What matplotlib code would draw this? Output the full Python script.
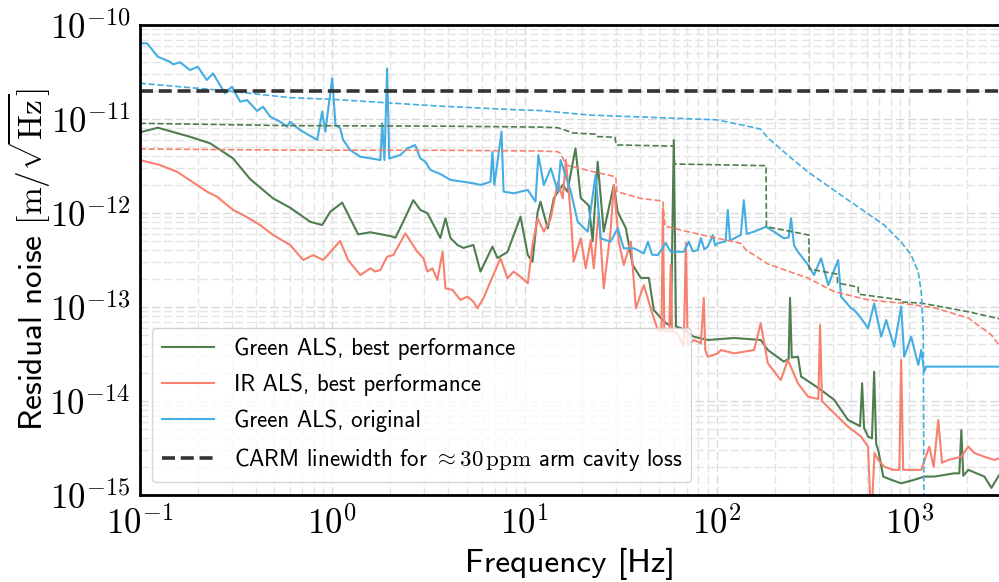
import numpy as np
import matplotlib
matplotlib.use("Agg")
import matplotlib.pyplot as plt
from matplotlib.ticker import LogLocator, NullFormatter, FuncFormatter

plt.rcParams['mathtext.fontset'] = 'cm'
plt.rcParams['font.family'] = ['cmss10', 'DejaVu Sans']
plt.rcParams['axes.unicode_minus'] = False

# ---------------- data ----------------
green_f = [0.1, 0.124, 0.182, 0.232, 0.305, 0.374, 0.493, 0.604, 0.768, 0.887, 0.976, 1.127,
           1.365, 1.578, 2.00, 2.13, 2.34, 2.64, 2.87, 3.13, 3.65, 3.88, 4.12, 4.48, 4.81, 5.42,
           5.90, 6.81, 7.23, 8.15, 9.53, 10.4, 11.0, 11.7, 12.1, 13.2, 14.2, 15.8, 16.7, 18.4,
           19.6, 21.6, 22.6, 24.0, 25.8, 29.1, 30.5, 33.6, 36.5, 40.2, 44.3, 47.0, 51.1, 55.0,
           57.7, 59.7, 61.3, 64.9, 75.9, 89.7, 123, 169, 184, 223, 236, 240, 245, 264, 274, 309,
           348, 407, 481, 555, 569, 582, 611, 640, 657, 673, 690, 733, 806, 908, 1062, 1197,
           1349, 1714, 1822, 1866, 1910, 2028, 2460, 2674, 2978]
green_asd = [7.22e-12, 8.08e-12, 6.48e-12, 5.51e-12, 3.82e-12, 2.30e-12, 1.43e-12, 1.14e-12,
             8.07e-13, 7.45e-13, 1.03e-12, 1.29e-12, 5.93e-13, 6.24e-13, 5.69e-13, 5.46e-13,
             8.07e-13, 1.37e-12, 1.08e-12, 9.93e-13, 5.42e-13, 8.79e-13, 5.42e-13, 4.57e-13,
             4.25e-13, 4.57e-13, 2.38e-13, 4.39e-13, 3.32e-13, 3.85e-13, 9.14e-13, 3.57e-13,
             3.03e-13, 1.03e-12, 1.32e-12, 6.87e-13, 1.44e-12, 1.99e-12, 1.69e-12, 4.88e-12,
             1.44e-12, 1.2e-12, 5.0e-13, 3.51e-12, 6.33e-13, 1.99e-12, 1.03e-12, 6.92e-13,
             2.80e-13, 2.04e-13, 2.04e-13, 9.29e-14, 7.64e-14, 6.6e-14, 6.44e-14, 5.98e-12,
             6.2e-14, 5.98e-14, 4.83e-14, 4.46e-14, 4.68e-14, 4.46e-14, 3.49e-14, 2.62e-14,
             2.8e-14, 1.25e-13, 2.9e-14, 2.96e-14, 1.82e-14, 1.55e-14, 1.31e-14, 1.03e-14,
             6.28e-15, 5.4e-15, 1.55e-14, 5.2e-15, 4.17e-15, 4.0e-15, 2.05e-14, 3.5e-15,
             3.01e-15, 1.57e-15, 1.45e-15, 1.33e-15, 1.45e-15, 1.57e-15, 1.57e-15, 1.70e-15,
             1.7e-15, 4.91e-15, 1.6e-15, 1.85e-15, 1.57e-15, 1.19e-15, 1.71e-15]

red_f = [0.1, 0.127, 0.156, 0.198, 0.223, 0.252, 0.305, 0.344, 0.422, 0.493, 0.604, 0.707,
         0.796, 0.898, 1.10, 1.21, 1.40, 1.58, 1.67, 1.78, 1.93, 2.08, 2.40, 2.77, 2.98, 3.13,
         3.32, 3.52, 3.75, 3.88, 4.22, 4.64, 5.05, 5.42, 5.69, 6.11, 6.65, 7.50, 8.15, 8.77,
         9.53, 10.4, 11.0, 11.7, 12.6, 13.7, 14.9, 15.8, 16.4, 17.4, 18.0, 19.6, 20.8, 22.1,
         22.9, 24.3, 25.8, 28.0, 29.1, 30.9, 32.8, 35.7, 37.9, 41.7, 46.4, 49.3, 51.5, 52.4,
         53.3, 56.5, 57.5, 58.5, 62.0, 67.3, 69.0, 70.5, 75.9, 82.6, 85.5, 87.0, 89.7, 101,
         105, 123, 156, 169, 184, 215, 234, 264, 298, 337, 344, 352, 407, 481, 562, 611, 634,
         660, 690, 741, 826, 888, 908, 930, 988, 1155, 1271, 1340, 1416, 1480, 1596, 1866,
         2028, 2181, 2460, 2773, 2978]
red_asd = [3.66e-12, 3.24e-12, 2.75e-12, 1.99e-12, 1.69e-12, 1.49e-12, 1.08e-12, 9.53e-13,
           7.45e-13, 5.83e-13, 4.57e-13, 3.16e-13, 3.57e-13, 3.16e-13, 5.04e-13, 3.16e-13,
           2.19e-13, 2.58e-13, 2.38e-13, 2.48e-13, 3.43e-13, 3.57e-13, 6.08e-13, 3.87e-13,
           3.30e-13, 2.38e-13, 2.58e-13, 1.94e-13, 3.87e-13, 1.58e-13, 1.52e-13, 1.19e-13,
           1.29e-13, 1.14e-13, 9.68e-14, 1.24e-13, 1.86e-13, 3.30e-13, 2.02e-13, 2.38e-13,
           2.10e-13, 1.79e-13, 4.57e-13, 8.79e-13, 6.33e-13, 8.79e-13, 2.15e-12, 1.43e-12,
           3.66e-12, 9.53e-13, 3.03e-13, 5.38e-13, 2.58e-13, 5.16e-13, 2.58e-13, 1.03e-12,
           1.58e-13, 6.33e-13, 1.99e-12, 4.95e-13, 2.80e-13, 4.95e-13, 9.68e-14, 1.71e-13,
           8.22e-14, 5.69e-14, 5.5e-14, 1.12e-12, 5.5e-14, 5.5e-14, 2.8e-13, 5.5e-14, 5.3e-14,
           3.78e-14, 4.80e-13, 3.9e-14, 4.46e-14, 4.11e-14, 1.25e-13, 3.5e-14, 2.96e-14,
           3.21e-14, 3.49e-14, 3.21e-14, 3.49e-14, 6.71e-14, 2.52e-14, 1.67e-14, 2.73e-14,
           1.54e-14, 1.11e-14, 1.05e-14, 6.44e-14, 1.0e-14, 7.40e-15, 5.33e-15, 4.17e-15,
           3.27e-15, 5e-16, 2.8e-15, 2.36e-15, 2.0e-15, 1.85e-15, 1.85e-15, 2.73e-14, 1.85e-15,
           1.85e-15, 1.85e-15, 3.27e-15, 2.0e-15, 6.28e-15, 2.2e-15, 2.36e-15, 2.55e-15,
           3.27e-15, 2.80e-15, 2.55e-15, 2.36e-15, 2.48e-15]

blue_f = [0.1, 0.109, 0.124, 0.143, 0.149, 0.162, 0.182, 0.200, 0.223, 0.240, 0.255, 0.277,
          0.301, 0.332, 0.361, 0.407, 0.437, 0.476, 0.536, 0.583, 0.604, 0.681, 0.836, 0.887,
          0.921, 1.00, 1.04, 1.10, 1.14, 1.24, 1.40, 1.58, 1.78, 1.82, 1.87, 1.93, 1.98, 2.26,
          2.46, 2.70, 2.87, 3.05, 3.24, 3.65, 4.12, 4.81, 5.42, 5.90, 6.65, 6.81, 6.97, 7.59,
          7.78, 8.77, 10.4, 11.4, 11.8, 12.6, 13.7, 14.9, 15.4, 17.4, 18.9, 21.3, 23.4, 24.9,
          28.0, 30.5, 32.8, 37.0, 41.7, 43.8, 46.0, 49.3, 54.2, 57.5, 67.3, 71.4, 75.0, 79.6,
          82.6, 86.0, 89.7, 95.3, 98.0, 101, 111, 114, 117, 123,
          133, 138, 143, 156, 180, 198, 223, 236, 243, 252, 264, 298, 320, 348, 379, 427, 442,
          499, 518, 562, 611, 657, 715, 759, 835, 908, 942, 1024, 1114, 1155, 1197, 1226, 2978]
blue_asd = [6.39e-11, 6.39e-11, 4.60e-11, 4.07e-11, 3.82e-11, 4.01e-11, 3.32e-11, 3.60e-11,
            2.60e-11, 3.06e-11, 2.49e-11, 1.88e-11, 2.21e-11, 1.53e-11, 1.59e-11, 1.22e-11,
            1.35e-11, 1.06e-11, 9.36e-12, 8.28e-12, 9.36e-12, 7.64e-12, 5.98e-12, 1.20e-11,
            7.33e-12, 2.71e-11, 8.63e-12, 7.96e-12, 5.98e-12, 4.68e-12, 3.97e-12, 3.82e-12,
            3.66e-12, 9.0e-12, 3.66e-12, 3.46e-11, 3.8e-12, 4.14e-12, 4.88e-12, 5.28e-12,
            3.82e-12, 3.51e-12, 2.87e-12, 2.60e-12, 2.25e-12, 2.15e-12, 2.07e-12, 1.99e-12,
            2.15e-12, 4.49e-12, 1.99e-12, 7.33e-12, 1.69e-12, 1.62e-12, 1.76e-12, 1.32e-12,
            4.14e-12, 1.99e-12, 2.99e-12, 1.69e-12, 3.66e-12, 1.69e-12, 8.07e-13, 6.33e-13,
            2.54e-12, 5.38e-13, 4.95e-13, 6.87e-13, 4.21e-13, 4.21e-13, 3.72e-13, 4.95e-13,
            3.6e-13, 3.57e-13, 4.8e-13, 3.87e-13, 3.87e-13, 4.95e-13, 3.9e-13, 4.04e-13,
            5.4e-13, 4.1e-13, 4.39e-13, 5.8e-13, 4.5e-13, 4.76e-13, 5.0e-13, 1.08e-12, 5.1e-13,
            5.38e-13, 5.83e-13, 1.37e-12, 6.0e-13, 6.33e-13, 7.14e-13, 6.33e-13, 5.38e-13,
            5.5e-13, 8.79e-13, 4.5e-13, 3.87e-13, 2.80e-13, 2.19e-13, 3.30e-13, 1.71e-13,
            3.16e-13, 1.29e-13, 9.68e-14, 9.29e-14, 7.59e-14, 5.93e-14, 1.09e-13, 4.83e-14,
            7.28e-14, 3.78e-14, 1.01e-13, 2.96e-14, 4.83e-14, 2.42e-14, 3.49e-14, 2.05e-14,
            2.32e-14, 2.32e-14]

green_rms_f = [0.1, 0.6, 3.65, 7.5, 12.1, 14.9, 18.0, 23.5, 24.0, 29.5, 30.0, 59.7, 60.3,
               180, 181, 301, 302, 422, 424, 542, 545, 908, 912, 1155, 2030, 2980]
green_rms = [9.0e-12, 8.5e-12, 8.4e-12, 8.28e-12, 8.2e-12, 8.08e-12, 7.1e-12, 6.9e-12,
             6.5e-12, 6.4e-12, 5.3e-12, 5.15e-12, 3.32e-12, 3.19e-12, 7.15e-13, 5.83e-13,
             2.54e-13, 2.24e-13, 1.8e-13, 1.63e-13, 1.37e-13, 1.19e-13, 1.13e-13, 1.1e-13,
             8.9e-14, 7.45e-14]

red_rms_f = [0.1, 0.6, 3.65, 12.1, 14.9, 15.5, 16.4, 22.8, 29.8, 30.2, 40.2, 52.4, 53.7,
             70.6, 133, 142, 184, 298, 406, 611, 908, 1349, 2030, 2673, 2980]
red_rms = [4.8e-12, 4.67e-12, 4.65e-12, 4.57e-12, 4.49e-12, 4.24e-12, 3.24e-12, 2.75e-12,
           2.43e-12, 1.69e-12, 1.43e-12, 1.34e-12, 7.27e-13, 6.32e-13, 4.76e-13, 4.04e-13,
           2.87e-13, 2.03e-13, 1.46e-13, 1.19e-13, 1.1e-13, 9.8e-14, 7.64e-14, 5.04e-14,
           3.75e-14]

blue_rms_f = [0.1, 0.28, 0.6, 1.0, 3.65, 8.7, 12.1, 22, 60, 100, 133, 169, 184, 243, 298,
              442, 542, 741, 908, 1024, 1114, 1155, 1183, 1197]
blue_rms = [2.4e-11, 2.0e-11, 1.69e-11, 1.62e-11, 1.37e-11, 1.26e-11, 1.23e-11, 1.1e-11,
            1.02e-11, 9.8e-12, 8.7e-12, 7.8e-12, 6.3e-12, 3.85e-12, 2.73e-12, 1.55e-12,
            1.16e-12, 7.45e-13, 4.9e-13, 3.57e-13, 2.36e-13, 1.44e-13, 5.7e-14, 1e-16]

carm_linewidth = 2.0e-11

labels = [r'Green ALS, best performance',
          r'IR ALS, best performance',
          r'Green ALS, original',
          r'CARM linewidth for $\approx 30\,\mathrm{ppm}$ arm cavity loss']
xlabel_text = 'Frequency [Hz]'
ylabel_text = r'Residual noise $[\mathrm{m}/\sqrt{\mathrm{Hz}}]$'

c_green = '#4f7d4f'
c_red = '#f8806f'
c_blue = '#45ade2'

# ---------------- figure ----------------
fig = plt.figure(figsize=(9.99, 5.82), dpi=100)
ax = fig.add_axes([0.140, 0.1495, 0.862, 0.8075])

h1, = ax.loglog(green_f, green_asd, color=c_green, lw=1.5)
h2, = ax.loglog(red_f, red_asd, color=c_red, lw=1.5)
h3, = ax.loglog(blue_f, blue_asd, color=c_blue, lw=1.5)
ax.loglog(green_rms_f, green_rms, color=c_green, lw=1.2, ls='--')
ax.loglog(red_rms_f, red_rms, color=c_red, lw=1.2, ls='--')
ax.loglog(blue_rms_f, blue_rms, color=c_blue, lw=1.2, ls='--')
h4 = ax.axhline(carm_linewidth, color='#333333', lw=2.6, ls='--', dashes=(3.6, 1.6))

ax.set_xlim(0.1, 3000)
ax.set_ylim(1e-15, 1e-10)

ax.xaxis.set_major_locator(LogLocator(base=10, numticks=20))
ax.yaxis.set_major_locator(LogLocator(base=10, numticks=20))
ax.xaxis.set_minor_locator(LogLocator(base=10, subs=np.arange(2, 10), numticks=100))
ax.yaxis.set_minor_locator(LogLocator(base=10, subs=np.arange(2, 10), numticks=100))
ax.xaxis.set_minor_formatter(NullFormatter())
ax.yaxis.set_minor_formatter(NullFormatter())
pow_fmt = FuncFormatter(lambda v, pos: r'$10^{%d}$' % int(round(np.log10(v))))
ax.xaxis.set_major_formatter(pow_fmt)
ax.yaxis.set_major_formatter(pow_fmt)

ax.grid(which='major', ls='--', color='#d8d8d8', lw=1.0, dashes=(6, 2.5))
ax.grid(which='minor', ls='--', color='#e4e4e4', lw=1.0, dashes=(6, 2.5))
ax.set_axisbelow(True)

ax.tick_params(which='both', length=0, labelsize=25)
ax.tick_params(axis='x', pad=8)
ax.tick_params(axis='y', pad=7)

for s in ['top', 'left', 'bottom']:
    ax.spines[s].set_linewidth(2.0)
    ax.spines[s].set_color('black')
ax.spines['right'].set_visible(False)

ax.set_xlabel(xlabel_text, fontsize=24, labelpad=5)
ax.set_ylabel(ylabel_text, fontsize=24)
ax.yaxis.set_label_coords(-0.102, 0.5)

leg = ax.legend([h1, h2, h3, h4], labels, loc='lower left', fontsize=16.5,
                handlelength=2.3, handletextpad=0.85, labelspacing=0.6,
                borderpad=0.4, borderaxespad=0.55, framealpha=0.8, fancybox=True)
leg.get_frame().set_edgecolor('#cccccc')
leg.get_frame().set_linewidth(1.0)

fig.savefig('out.png', dpi=100)
